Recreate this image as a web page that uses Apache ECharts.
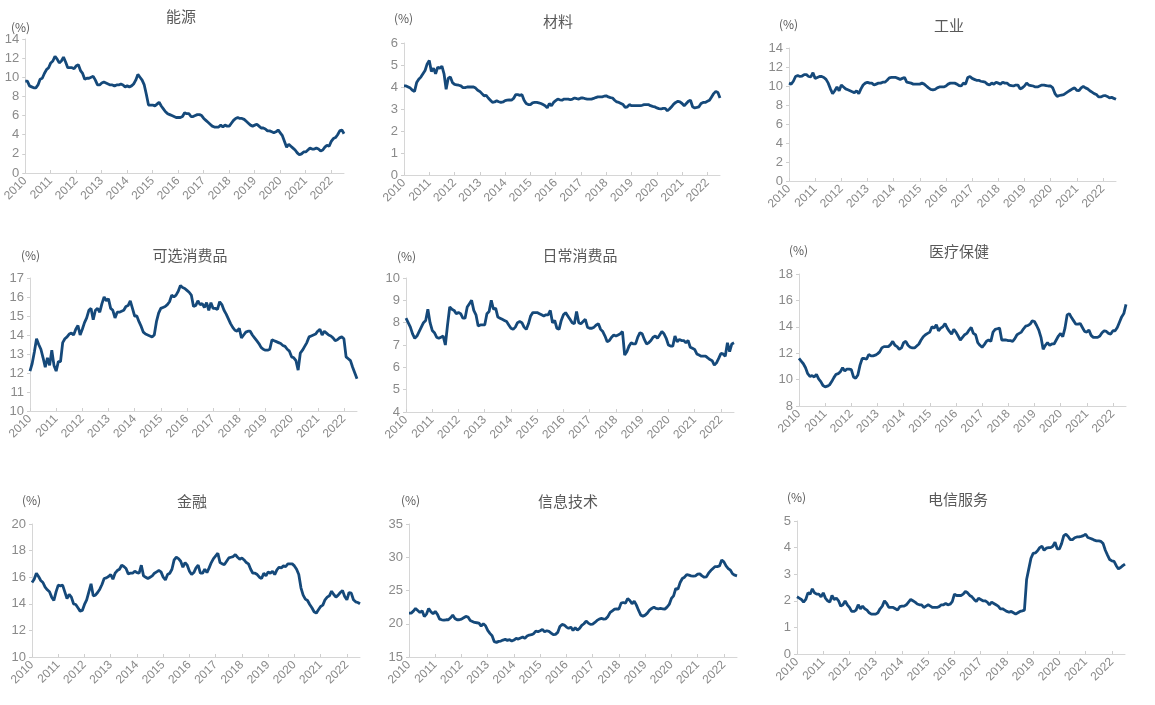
<!DOCTYPE html>
<html><head><meta charset="utf-8">
<script src="https://cdn.jsdelivr.net/npm/echarts@6/dist/echarts.min.js"></script>
<style>html,body{margin:0;padding:0;background:#fff}#c{width:1155px;height:705px}</style>
</head><body><div id="c"></div>
<script>
// ---- data ----
const years = ['2010','2011','2012','2013','2014','2015','2016','2017','2018','2019','2020','2021','2022'];
const monthsInLastYear = 7; // Jan..Jul 2022
const titles = ['能源','材料','工业','可选消费品','日常消费品','医疗保健','金融','信息技术','电信服务'];
const unitLabel = '(%)';

const energy = [9.6,9.6,9.1,9.0,8.9,8.9,9.2,9.8,9.9,10.4,10.8,11.0, 11.5,11.7,12.2,11.9,11.5,11.7,12.1,11.6,11.0,11.0,11.0,10.9, 11.2,11.3,10.7,10.4,9.8,9.9,9.9,10.0,10.1,9.7,9.2,9.2, 9.4,9.5,9.4,9.3,9.2,9.2,9.1,9.2,9.2,9.3,9.2,9.0, 9.1,9.0,9.1,9.3,9.7,10.3,10.0,9.7,9.2,8.2,7.1,7.1, 7.1,7.0,7.2,7.4,7.0,6.7,6.4,6.2,6.1,6.0,5.9,5.8, 5.8,5.8,5.9,6.3,6.2,6.2,5.9,5.9,6.0,6.1,6.1,6.0, 5.7,5.5,5.3,5.1,4.9,4.8,4.8,4.8,5.0,4.8,5.0,4.9, 4.9,5.2,5.5,5.7,5.8,5.7,5.7,5.6,5.4,5.2,5.0,4.9, 5.0,5.1,4.9,4.7,4.7,4.6,4.4,4.4,4.3,4.2,4.3,4.5, 4.2,3.9,3.3,2.7,3.0,2.8,2.6,2.4,2.1,1.9,2.0,2.2, 2.2,2.4,2.6,2.5,2.5,2.6,2.5,2.3,2.4,2.7,2.9,2.8, 3.3,3.6,3.7,4.0,4.4,4.5,4.1];
const materials = [4.05,4.05,4.0,3.95,3.85,3.8,4.2,4.35,4.45,4.6,4.75,5.05, 5.2,4.7,4.85,4.6,4.9,4.85,4.95,4.6,3.9,4.4,4.45,4.2, 4.12,4.1,4.08,4.05,3.97,3.97,4.0,4.0,4.0,4.0,3.95,3.85, 3.8,3.7,3.6,3.62,3.5,3.4,3.3,3.32,3.37,3.33,3.3,3.32, 3.38,3.4,3.42,3.4,3.48,3.65,3.65,3.62,3.65,3.4,3.25,3.2, 3.2,3.28,3.3,3.3,3.28,3.25,3.2,3.15,3.05,3.25,3.15,3.3, 3.38,3.45,3.42,3.4,3.45,3.45,3.45,3.42,3.45,3.5,3.47,3.45, 3.5,3.5,3.47,3.45,3.45,3.45,3.48,3.52,3.55,3.55,3.55,3.58, 3.6,3.55,3.52,3.5,3.4,3.32,3.3,3.25,3.2,3.07,3.1,3.2, 3.15,3.15,3.15,3.15,3.15,3.17,3.2,3.2,3.2,3.15,3.12,3.1, 3.05,3.02,3.0,3.03,3.03,2.92,3.0,3.1,3.22,3.3,3.35,3.32, 3.25,3.15,3.25,3.35,3.4,3.1,3.05,3.07,3.1,3.25,3.3,3.3, 3.35,3.4,3.55,3.7,3.8,3.75,3.5];
const industrials = [10.3,10.2,10.5,11.0,11.1,11.0,11.05,11.2,11.2,11.0,10.95,11.4, 10.8,10.9,11.0,11.0,10.9,10.7,10.3,9.7,9.2,9.5,9.9,9.5, 10.1,9.9,9.7,9.6,9.5,9.4,9.3,9.5,9.2,9.7,10.1,10.3, 10.4,10.3,10.3,10.1,10.2,10.3,10.3,10.4,10.4,10.6,10.85,10.9, 10.9,10.9,10.8,10.7,10.8,10.9,10.4,10.35,10.3,10.2,10.2,10.2, 10.2,10.3,10.2,10.0,9.8,9.65,9.6,9.65,9.8,9.9,9.9,9.9, 10.0,10.2,10.3,10.3,10.3,10.2,10.05,10.0,10.3,10.2,10.9,11.0, 10.8,10.7,10.6,10.6,10.5,10.45,10.4,10.2,10.1,10.3,10.2,10.4, 10.3,10.2,10.4,10.3,10.3,10.1,10.05,10.0,10.1,10.1,9.7,9.8, 10.0,10.3,10.1,10.05,10.0,9.9,9.9,10.0,10.1,10.1,10.05,10.0, 10.0,9.8,9.2,8.9,9.0,9.05,9.1,9.25,9.4,9.55,9.7,9.8, 9.55,9.5,9.8,9.95,9.8,9.7,9.5,9.35,9.2,9.1,8.85,8.85, 8.95,9.0,8.9,8.75,8.8,8.7,8.6];
const consDisc = [12.1,12.5,13.1,13.8,13.5,13.25,12.8,12.3,12.8,12.4,13.2,12.4, 12.1,12.6,12.6,13.6,13.8,13.9,14.05,14.1,14.0,14.3,14.5,14.0, 14.3,14.65,14.9,15.3,15.4,14.8,15.3,15.4,15.2,15.65,16.0,15.8, 15.9,15.4,15.3,14.9,15.2,15.2,15.25,15.3,15.5,15.55,15.8,15.4, 15.0,15.0,14.7,14.45,14.15,14.05,14.0,13.95,13.9,14.0,14.7,15.15, 15.4,15.45,15.5,15.6,15.75,16.1,16.0,16.1,16.3,16.6,16.5,16.45, 16.35,16.25,16.1,15.5,15.55,15.8,15.6,15.65,15.45,15.7,15.3,15.7, 15.4,15.4,15.35,15.75,15.6,15.3,15.1,14.85,14.6,14.4,14.25,14.2, 14.35,13.85,14.0,14.15,14.2,14.2,14.0,13.85,13.7,13.55,13.35,13.25, 13.2,13.2,13.25,13.75,13.7,13.65,13.6,13.55,13.45,13.4,13.25,13.15, 12.85,12.8,12.65,12.15,13.05,13.2,13.4,13.6,13.9,13.95,14.0,14.05, 14.2,14.3,14.0,14.2,14.1,14.0,13.95,13.85,13.7,13.75,13.85,13.9, 13.8,12.85,12.75,12.65,12.3,12.0,11.7];
const consStaples = [8.2,8.0,7.8,7.5,7.3,7.4,7.6,7.8,8.0,8.1,8.6,8.0, 7.65,7.55,7.35,7.3,7.35,7.4,7.0,7.9,8.7,8.6,8.55,8.4, 8.45,8.4,8.2,8.2,8.7,8.85,9.0,8.55,8.35,7.85,7.9,7.9, 7.9,8.4,8.5,9.0,8.6,8.65,8.25,8.2,8.15,8.1,8.05,7.9, 7.75,7.7,7.8,8.0,8.05,8.0,7.8,7.7,7.95,8.3,8.45,8.45, 8.45,8.4,8.35,8.3,8.35,8.35,8.55,8.0,8.1,7.75,7.7,8.1, 8.35,8.45,8.3,8.15,8.0,7.95,8.5,8.0,7.95,8.05,8.15,7.8, 7.75,7.75,7.8,7.9,7.95,7.7,7.6,7.4,7.15,7.2,7.35,7.45, 7.4,7.45,7.5,7.6,6.55,6.7,6.95,7.1,7.05,7.05,7.35,7.55, 7.5,7.25,7.05,7.1,7.2,7.35,7.4,7.3,7.45,7.6,7.5,7.3, 7.0,6.95,6.95,7.4,7.15,7.25,7.2,7.2,7.1,7.2,6.9,6.85, 6.8,6.6,6.55,6.5,6.5,6.5,6.42,6.35,6.3,6.1,6.2,6.4, 6.62,6.6,6.5,7.1,6.7,7.05,7.1];
const health = [11.6,11.4,11.2,10.9,10.45,10.25,10.3,10.2,10.4,10.05,9.85,9.55, 9.45,9.5,9.6,9.85,10.15,10.4,10.45,10.6,10.9,10.65,10.8,10.8, 10.75,10.2,10.1,10.35,11.1,11.6,11.6,11.55,11.9,11.8,11.8,11.85, 11.95,12.1,12.4,12.5,12.5,12.5,12.65,12.9,12.6,12.5,12.3,12.4, 12.8,12.9,12.6,12.45,12.4,12.4,12.55,12.7,13.0,13.25,13.4,13.5, 13.6,14.0,13.9,14.15,13.7,13.9,14.0,14.25,13.9,13.65,13.45,13.8, 13.6,13.3,13.0,13.2,13.4,13.5,13.75,13.95,13.5,13.4,12.8,12.6, 12.45,12.65,12.9,13.0,12.9,13.6,13.8,13.85,13.9,13.0,13.0,13.0, 12.95,12.95,12.9,13.1,13.4,13.5,13.6,13.85,14.05,14.1,14.2,14.45, 14.4,14.1,13.75,13.2,12.3,12.6,12.8,12.6,12.7,12.7,13.0,13.3, 13.5,13.25,13.9,14.9,15.0,14.7,14.45,14.2,14.2,14.25,13.95,13.65, 13.6,13.75,13.35,13.2,13.2,13.2,13.3,13.55,13.7,13.65,13.5,13.45, 13.7,13.7,13.95,14.35,14.75,15.0,15.7];
const financials = [15.6,15.85,16.3,16.05,15.75,15.6,15.25,15.05,14.9,14.5,14.25,14.9, 15.4,15.35,15.4,14.9,14.4,14.7,14.5,14.0,13.95,13.7,13.45,13.5, 13.95,14.3,14.9,15.5,14.6,14.65,14.85,15.1,15.45,15.9,15.95,16.05, 16.2,15.85,16.3,16.5,16.6,16.9,16.8,16.65,16.25,16.3,16.3,16.45, 16.35,16.3,16.9,16.1,16.0,15.9,16.0,16.1,16.3,16.4,16.5,16.4, 16.0,15.8,16.2,16.3,16.6,17.3,17.5,17.4,17.2,16.75,17.1,16.9, 16.45,16.2,16.35,16.7,16.9,16.3,16.3,16.6,16.35,16.7,17.1,17.4, 17.6,17.8,17.1,17.0,16.95,17.2,17.45,17.5,17.55,17.7,17.5,17.35, 17.45,17.3,17.1,17.0,16.6,16.3,16.3,16.2,16.0,15.9,16.3,16.1, 16.4,16.3,16.45,16.2,16.55,16.75,16.7,16.85,16.8,17.0,17.0,17.0, 16.85,16.6,16.2,15.2,14.65,14.35,14.25,13.95,13.7,13.4,13.3,13.55, 13.8,13.9,14.3,14.5,14.6,14.95,14.7,14.5,14.65,14.85,15.0,14.55, 14.3,14.85,14.8,14.3,14.15,14.1,14.0];
const infoTech = [21.6,21.6,21.9,22.3,22.0,21.7,21.95,21.1,21.45,22.3,21.8,21.5, 21.85,21.4,20.7,20.6,20.55,20.6,20.6,20.9,21.3,20.8,20.6,20.6, 20.7,20.9,21.1,21.0,20.5,20.35,20.2,20.15,20.1,19.65,20.0,19.7, 19.0,18.55,18.2,17.3,17.2,17.35,17.4,17.55,17.65,17.5,17.6,17.4, 17.55,17.8,17.7,17.85,18.0,17.8,18.15,18.3,18.35,18.5,18.9,18.8, 18.95,19.15,18.8,18.95,18.85,18.6,18.35,18.4,18.7,19.6,19.9,19.8, 19.5,19.3,19.5,19.0,19.4,19.05,19.3,19.75,20.0,20.4,20.1,19.9, 19.95,20.2,20.5,20.7,20.8,20.7,20.75,21.1,21.7,21.95,22.2,22.25, 22.2,23.1,23.2,23.1,23.8,23.5,23.0,23.4,22.8,22.0,21.3,21.15, 21.3,21.6,22.05,22.3,22.5,22.3,22.25,22.3,22.25,22.2,22.5,22.9, 23.8,24.2,25.3,25.2,26.2,26.8,27.0,27.4,27.3,27.2,27.15,27.2, 27.45,27.5,27.2,27.0,27.05,27.6,28.0,28.3,28.6,28.6,28.7,29.6, 29.3,28.7,28.3,28.05,27.5,27.3,27.2];
const telecom = [2.15,2.1,2.05,1.95,2.05,2.3,2.25,2.45,2.3,2.25,2.25,2.15, 2.3,2.1,2.0,1.95,2.2,2.05,2.1,2.0,1.8,1.85,2.0,1.85, 1.75,1.6,1.6,1.65,1.85,1.7,1.8,1.7,1.65,1.55,1.5,1.5, 1.5,1.55,1.7,1.8,2.0,1.9,1.75,1.75,1.75,1.7,1.65,1.78, 1.8,1.8,1.85,1.95,2.05,2.0,1.95,1.88,1.85,1.85,1.75,1.8, 1.85,1.8,1.75,1.75,1.75,1.78,1.85,1.85,1.9,1.85,1.87,1.97, 2.25,2.2,2.2,2.2,2.25,2.35,2.3,2.2,2.15,2.05,1.97,2.1, 2.05,2.0,2.0,1.95,1.85,1.95,1.9,1.85,1.8,1.7,1.7,1.65, 1.6,1.57,1.6,1.55,1.5,1.55,1.6,1.62,1.65,2.8,3.2,3.6, 3.78,3.8,3.88,4.0,4.05,3.9,3.98,4.0,4.0,4.05,4.2,3.95, 3.95,4.15,4.45,4.5,4.42,4.3,4.3,4.37,4.4,4.4,4.42,4.45, 4.5,4.38,4.35,4.32,4.28,4.25,4.25,4.23,4.15,3.9,3.72,3.55, 3.5,3.48,3.32,3.2,3.25,3.32,3.38];

const seriesData = [energy, materials, industrials, consDisc, consStaples, health, financials, infoTech, telecom];
const yMin = [0, 0, 0, 10, 4, 8, 10, 15, 0];
const yMax = [14, 6, 14, 17, 10, 18, 20, 35, 5];
const yStep = [2, 1, 2, 1, 1, 2, 2, 5, 1];

// month categories
const months = [];
years.forEach((y, yi) => {
  const n = yi === years.length - 1 ? monthsInLastYear : 12;
  for (let m = 1; m <= n; m++) months.push(y + '-' + (m < 10 ? '0' + m : m));
});

// ---- layout (pixels) ----
const grids = [
  {left: 25,    top: 39,  width: 319, height: 134},
  {left: 404,   top: 43,  width: 316, height: 132},
  {left: 789,   top: 48,  width: 327, height: 133},
  {left: 30,    top: 278, width: 327, height: 133},
  {left: 406,   top: 278, width: 328, height: 134},
  {left: 799,   top: 274, width: 327, height: 132},
  {left: 32,    top: 524, width: 328, height: 133},
  {left: 409,   top: 524, width: 328, height: 133},
  {left: 797,   top: 521, width: 328, height: 133}
];
const titlePos = [[181,16],[558,21],[949,25],[190,255],[580,255],[959,251],[192,501],[568,501],[958,499]];
const unitPos = [[11,27],[394,18],[779,24],[21,255],[397,256],[789,250],[22,500],[401,500],[787,497]];

const lineColor = '#15497a';
const axisColor = '#d6d6d6';
const labelColor = '#8a8a8a';
const numFont = '"Liberation Sans", Arial, sans-serif';
const cjkFont = '"Noto Sans CJK SC", sans-serif';

const yearTick = (i) => i % 12 === 0;

const option = {
  animation: false,
  backgroundColor: '#fff',
  grid: grids.map(g => Object.assign({containLabel: false}, g)),
  xAxis: grids.map((g, i) => ({
    type: 'category', gridIndex: i, data: months, boundaryGap: false,
    axisLine: {show: true, lineStyle: {color: axisColor, width: 1}},
    axisTick: {show: true, inside: true, length: 3, interval: yearTick, lineStyle: {color: '#cfcfcf'}},
    axisLabel: {interval: yearTick, formatter: v => v.slice(0, 4), rotate: 45, color: labelColor,
      fontSize: 12, fontFamily: numFont, margin: 6},
    splitLine: {show: false}
  })),
  yAxis: grids.map((g, i) => ({
    type: 'value', gridIndex: i, min: yMin[i], max: yMax[i], interval: yStep[i],
    axisLine: {show: true, lineStyle: {color: axisColor, width: 1}},
    axisTick: {show: true, length: 3, lineStyle: {color: '#cfcfcf'}},
    axisLabel: {color: labelColor, fontSize: 13, fontFamily: numFont, margin: 6},
    splitLine: {show: false}
  })),
  series: seriesData.map((d, i) => ({
    type: 'line', xAxisIndex: i, yAxisIndex: i, data: d, showSymbol: false,
    lineStyle: {color: lineColor, width: 2.8}, itemStyle: {color: lineColor}
  })),
  graphic: [].concat(
    titles.map((t, i) => ({
      type: 'text', x: titlePos[i][0], y: titlePos[i][1],
      style: {text: t, fill: '#595959', font: '15px ' + cjkFont, align: 'center', verticalAlign: 'middle',
        textAlign: 'center', textVerticalAlign: 'middle'}
    })),
    unitPos.map(p => ({
      type: 'text', x: p[0], y: p[1],
      style: {text: unitLabel, fill: '#595959', font: '12px ' + cjkFont, align: 'left', verticalAlign: 'middle',
        textAlign: 'left', textVerticalAlign: 'middle'}
    }))
  )
};

const chart = echarts.init(document.getElementById('c'), null, {renderer: 'canvas'});
chart.setOption(option);
</script>
</body></html>
